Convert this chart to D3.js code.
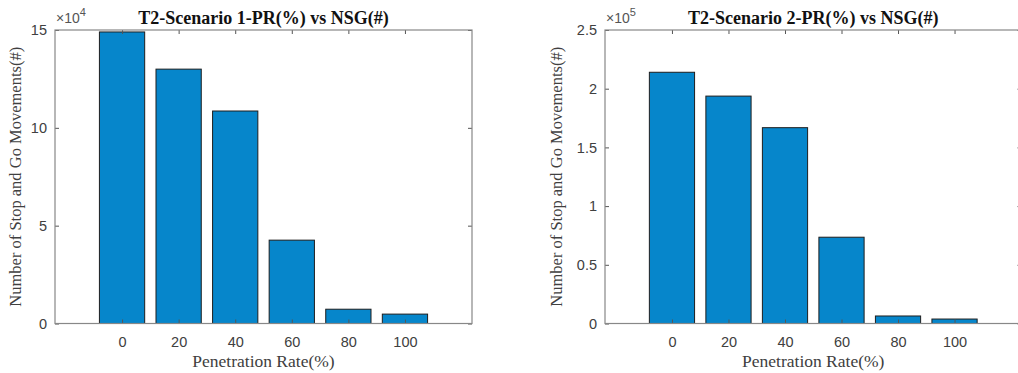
<!DOCTYPE html>
<html><head><meta charset="utf-8">
<script src="https://cdn.jsdelivr.net/npm/d3@7"></script>
<style>body{margin:0;background:#fff}svg{display:block}</style>
</head><body>
<svg id="c" width="1018" height="373"></svg>
<script>
const categories = [0, 20, 40, 60, 80, 100];
const scenario1 = [149000, 130000, 108600, 42600, 7300, 4800];
const scenario2 = [214000, 193700, 166800, 73500, 6400, 3800];
const yTicks1 = [0, 5, 10, 15];
const yTicks2 = [0, 0.5, 1, 1.5, 2, 2.5];
const titles = ["T2-Scenario 1-PR(%) vs NSG(#)", "T2-Scenario 2-PR(%) vs NSG(#)"];
const exps = ["4", "5"];
const muls = [1e4, 1e5];

(function () {
const svg = d3.select("#c");
const panels = [
  {left: 55, right: 472, vals: scenario1, ticks: yTicks1, max: 15, title: titles[0], exp: exps[0], mul: muls[0]},
  {left: 605, right: 1021.5, vals: scenario2, ticks: yTicks2, max: 2.5, title: titles[1], exp: exps[1], mul: muls[1]}
];
const yTop = 30, yBot = 323.5;
const axisCol = "#888";
const textCol = "#404040";

panels.forEach(p => {
  const g = svg.append("g");
  const x = d3.scaleLinear().domain([-23.7, 123.7]).range([p.left, p.right]);
  const y = d3.scaleLinear().domain([0, p.max]).range([yBot, yTop]);
  const bw = (x(20) - x(0)) * 0.8;

  g.selectAll("rect.bar").data(categories).enter().append("rect")
    .attr("x", d => x(d) - bw / 2)
    .attr("y", (d, i) => y(p.vals[i] / p.mul))
    .attr("width", bw)
    .attr("height", (d, i) => yBot - y(p.vals[i] / p.mul))
    .attr("fill", "#0686cb")
    .attr("stroke", "#1e1e1e")
    .attr("stroke-width", 1);

  const xa = d3.axisBottom(x).tickValues(categories).tickSize(-4).tickPadding(13).tickFormat(d3.format("d"));
  const xt = d3.axisTop(x).tickValues(categories).tickSize(-4).tickFormat("");
  const ya = d3.axisLeft(y).tickValues(p.ticks).tickSize(-4).tickPadding(8).tickFormat(d => d);
  const yr = d3.axisRight(y).tickValues(p.ticks).tickSize(-4).tickFormat("");
  const style = sel => {
    sel.selectAll(".domain").remove();
    sel.selectAll("line").attr("stroke", "#555");
    sel.selectAll("text").attr("fill", textCol).style("font-family", "'Liberation Sans', Arial, sans-serif").style("font-size", "14.5px");
  };
  g.append("g").attr("transform", `translate(0,${yBot})`).call(xa).call(style);
  g.append("g").attr("transform", `translate(0,${yTop})`).call(xt).call(style);
  g.append("g").attr("transform", `translate(${p.left},0)`).call(ya).call(style);
  g.append("g").attr("transform", `translate(${p.right},0)`).call(yr).call(style);
  g.append("rect").attr("x", p.left).attr("y", yTop).attr("width", p.right - p.left).attr("height", yBot - yTop)
    .attr("fill", "none").attr("stroke", axisCol).attr("stroke-width", 1.2);

  const ex = g.append("text").attr("x", p.left + 1).attr("y", 23)
    .attr("fill", "#555").style("font-family", "'Liberation Sans', Arial, sans-serif").style("font-size", "14px");
  ex.append("tspan").text("\u00d710");
  ex.append("tspan").attr("dy", -7).style("font-size", "11px").text(p.exp);

  g.append("text").attr("x", (p.left + Math.min(p.right, 1021.5)) / 2).attr("y", 24)
    .attr("text-anchor", "middle").attr("fill", "#111")
    .style("font-family", "'Liberation Serif', 'Times New Roman', serif").style("font-weight", "bold").style("font-size", "18px")
    .text(p.title);

  g.append("text").attr("x", (p.left + p.right) / 2).attr("y", 367)
    .attr("text-anchor", "middle").attr("fill", textCol)
    .style("font-family", "'Liberation Serif', 'Times New Roman', serif").style("font-size", "17.5px")
    .text("Penetration Rate(%)");

  g.append("text").attr("transform", `translate(${p.left - 34 - (p.max < 5 ? 9 : 0)},${(yTop + yBot) / 2}) rotate(-90)`)
    .attr("text-anchor", "middle").attr("fill", textCol)
    .style("font-family", "'Liberation Serif', 'Times New Roman', serif").style("font-size", "16.5px")
    .text("Number of Stop and Go Movements(#)");
});
})();
</script>
</body></html>
